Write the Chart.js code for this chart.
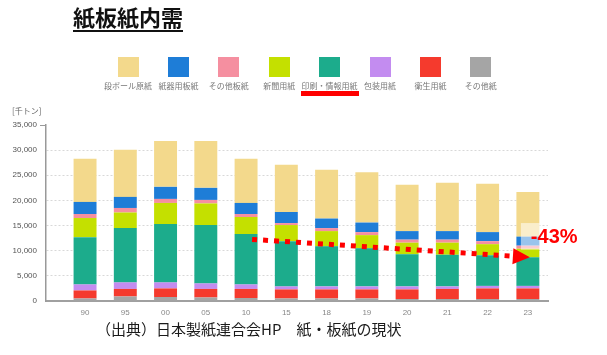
<!DOCTYPE html>
<html><head><meta charset="utf-8">
<script src="https://cdn.jsdelivr.net/npm/chart.js@4.4.1/dist/chart.umd.min.js"></script>
<style>
html,body{margin:0;padding:0;background:#fff;width:607px;height:355px;overflow:hidden;}
#wrap{position:relative;width:607px;height:355px;}
canvas{position:absolute;left:0;top:0;}
.title{position:absolute;left:73px;top:4px;font-family:"Noto Sans CJK JP";font-weight:bold;font-size:22px;line-height:24px;color:#111;border-bottom:2px solid #111;padding-bottom:2px;}
.li{position:absolute;top:57px;transform:translateX(-50%);text-align:center;}
.sw{width:21px;height:20px;margin:0 auto;}
.lab{font-family:"Noto Sans CJK JP";font-size:8px;line-height:10px;color:#777;margin-top:4px;white-space:nowrap;}
.ul{width:58px;height:5px;background:#ff0000;margin:0 auto;}
.unit{position:absolute;left:12px;top:106px;font-family:"Noto Sans CJK JP";font-size:8px;line-height:10px;color:#666;}
.src{position:absolute;left:96px;top:320px;font-family:"Noto Sans CJK JP";font-size:15px;line-height:18px;color:#1a1a1a;white-space:nowrap;}
</style></head>
<body>
<div id="wrap">
<canvas id="c" width="607" height="355"></canvas>
<div class="title">紙板紙内需</div>
<div id="legend"></div>
<div class="unit">[千トン]</div>
<div class="src">（出典）日本製紙連合会HP　紙・板紙の現状</div>
</div>
<script>
// categories (years) and y axis
const categories = ['90','95','00','05','10','15','18','19','20','21','22','23'];
const yMax = 35000;
const yStep = 5000;

// series (thousand tons), bottom to top of stack
const seriesNames  = ['その他紙','衛生用紙','包装用紙','印刷・情報用紙','新聞用紙','その他板紙','紙器用板紙','段ボール原紙'];
const seriesColors = ['#A5A5A5','#F53A2D','#C38CF0','#1CAC8C','#C4E000','#F58FA0','#1E7DD7','#F3D98C'];
const otherPaper     = [500, 900, 800, 700, 600, 500, 500, 500, 400, 400, 400, 400];
const sanitary       = [1600,1500,1700,1700,1800,1800,1800,1800,1900,2000,2100,2100];
const packaging      = [1200,1300,1200,1100, 900, 600, 600, 600, 600, 500, 500, 500];
const printing       = [9400,10800,11600,11600,10000,9000,8000,7600,6400,6300,6100,5700];
const newsprint      = [3800,3100,4200,4300,3400,3200,3000,2600,2300,2400,2200,1700];
const otherBoard     = [800, 900, 800, 700, 600, 400, 600, 600, 600, 600, 600, 600];
const boxBoard       = [2400,2200,2400,2400,2200,2200,1900,1900,1700,1700,1800,1800];
const containerboard = [8600,9400,9100,9300,8800,9400,9700,10000,9200,9600,9600,8900];
const seriesValues = [otherPaper, sanitary, packaging, printing, newsprint, otherBoard, boxBoard, containerboard];

// legend order (as shown) and highlighted item
const legendOrder = [7,6,5,4,3,2,1,0];
const highlighted = '印刷・情報用紙';

// trend annotation
const trendFrom = {cat:'10', value:12250};
const trendTo   = {cat:'23', value:8700};
const trendLabel = '-43%';
const trendLabelValue = 12700;
const overlayTop = 15500, overlayBottom = 10200;

// legend (HTML)
const lg = document.getElementById('legend');
legendOrder.forEach((si, k) => {
  const d = document.createElement('div');
  d.className = 'li';
  d.style.left = (128 + k * 50.4) + 'px';
  d.innerHTML = '<div class="sw" style="background:' + seriesColors[si] + '"></div><div class="lab">' + seriesNames[si] + '</div>' +
    (seriesNames[si] === highlighted ? '<div class="ul"></div>' : '');
  lg.appendChild(d);
});

const trendPlugin = {
  id: 'trend',
  afterDatasetsDraw(chart) {
    const {ctx, scales: {x, y}} = chart;
    const x1 = x.getPixelForValue(categories.indexOf(trendFrom.cat)) + 6;
    const y1 = y.getPixelForValue(trendFrom.value);
    const xc2 = x.getPixelForValue(categories.indexOf(trendTo.cat));
    const x2 = xc2 + 2, y2 = y.getPixelForValue(trendTo.value);
    ctx.save();
    // translucent box behind label
    const by = y.getPixelForValue(overlayTop);
    ctx.fillStyle = 'rgba(255,255,255,0.55)';
    ctx.fillRect(xc2 - 7, by, 19, y.getPixelForValue(overlayBottom) - by);
    // dotted arrow
    const ang = Math.atan2(y2 - y1, x2 - x1);
    const headLen = 17, hw = 8;
    const ex = x2 - headLen * Math.cos(ang), ey = y2 - headLen * Math.sin(ang);
    ctx.strokeStyle = '#ff0000';
    ctx.lineWidth = 5;
    ctx.setLineDash([5, 6]);
    ctx.beginPath(); ctx.moveTo(x1, y1); ctx.lineTo(ex, ey); ctx.stroke();
    ctx.setLineDash([]);
    ctx.fillStyle = '#ff0000';
    ctx.beginPath();
    ctx.moveTo(x2, y2);
    ctx.lineTo(ex + hw * Math.sin(ang), ey - hw * Math.cos(ang));
    ctx.lineTo(ex - hw * Math.sin(ang), ey + hw * Math.cos(ang));
    ctx.closePath(); ctx.fill();
    // label
    ctx.font = 'bold 20px "Liberation Sans", Arial, sans-serif';
    ctx.textBaseline = 'middle';
    ctx.textAlign = 'left';
    ctx.fillText(trendLabel, xc2 + 3, y.getPixelForValue(trendLabelValue));
    ctx.restore();
  }
};

new Chart(document.getElementById('c'), {
  type: 'bar',
  data: {
    labels: categories,
    datasets: seriesValues.map((vals, i) => ({
      label: seriesNames[i],
      data: vals,
      backgroundColor: seriesColors[i],
      borderWidth: 0,
      barPercentage: 0.57,
      categoryPercentage: 1
    }))
  },
  options: {
    responsive: false,
    animation: false,
    devicePixelRatio: 1,
    layout: {padding: {top: 125, right: 59, bottom: 34, left: 0}},
    plugins: {legend: {display: false}, tooltip: {enabled: false}},
    scales: {
      x: {
        stacked: true,
        offset: true,
        afterBuildTicks(s) { s._startValue = -0.97; s._valueRange = 12.47; },
        afterFit(s) { s.height = 20; },
        grid: {display: false, drawTicks: false},
        border: {display: true, color: '#a0a0a0', width: 2},
        ticks: {color: '#888', padding: 7, font: {family: '"Liberation Sans", Arial, sans-serif', size: 8}, maxRotation: 0, autoSkip: false}
      },
      y: {
        stacked: true,
        min: 0, max: yMax,
        afterFit(s) { s.width = 46; },
        grid: {
          color: c => (c.tick && (c.tick.value === yMax || c.tick.value === 0)) ? 'rgba(0,0,0,0)' : '#d8d8d8',
          tickColor: c => (c.tick && c.tick.value === yMax) ? '#999' : 'rgba(0,0,0,0)',
          drawTicks: true, tickLength: 6, lineWidth: 1
        },
        border: {display: true, color: '#999', width: 1.5, dash: [2, 2]},
        ticks: {
          stepSize: yStep, color: '#555', padding: 3,
          font: {family: '"Liberation Sans", Arial, sans-serif', size: 8},
          callback: v => v.toLocaleString('en-US')
        }
      }
    }
  },
  plugins: [trendPlugin]
});
</script>
</body></html>
